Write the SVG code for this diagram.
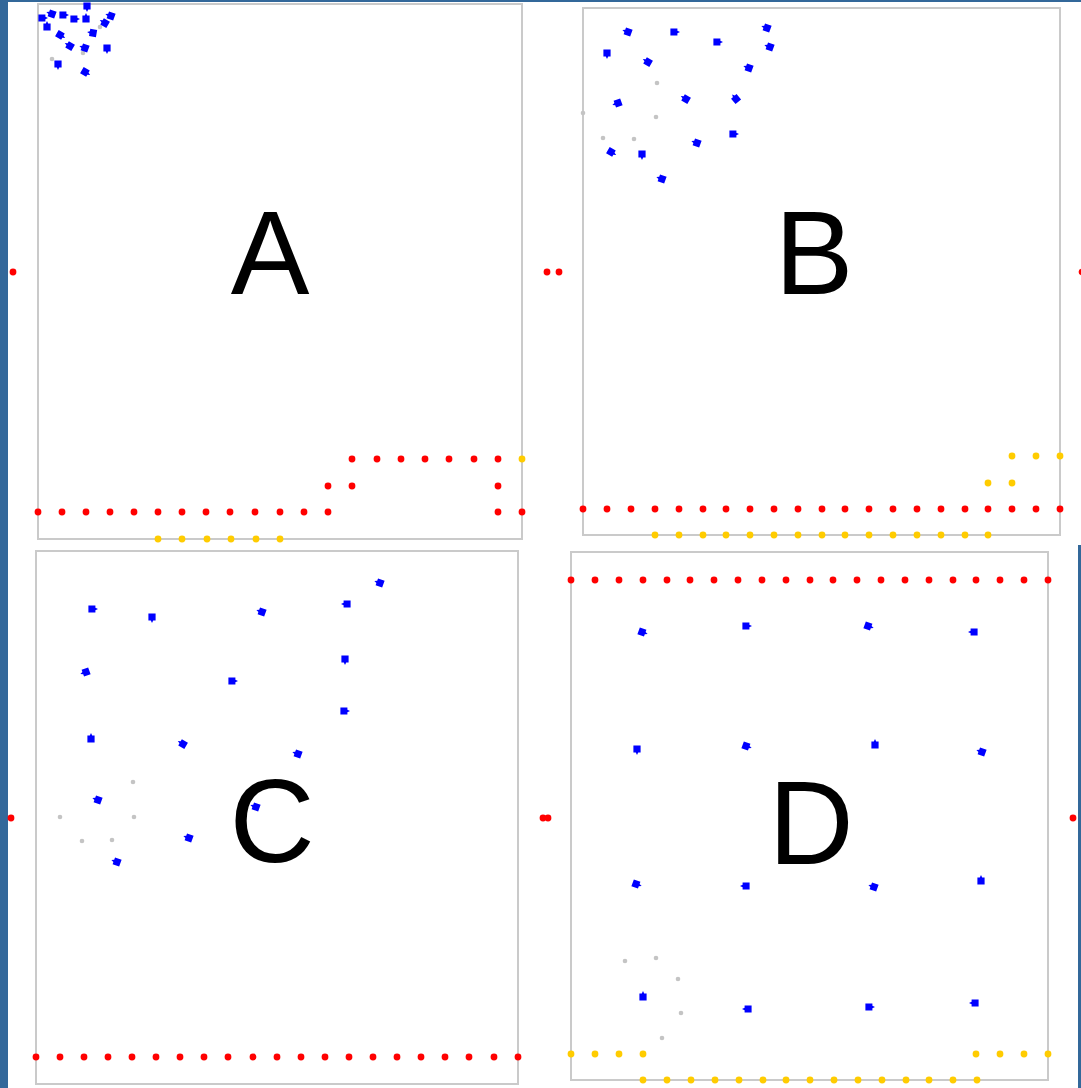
<svg xmlns="http://www.w3.org/2000/svg" xmlns:xlink="http://www.w3.org/1999/xlink" width="1081" height="1088" viewBox="0 0 1081 1088">
<style>
.panel{fill:#fff;stroke:#cacaca;stroke-width:2}
.lbl{font-family:"Liberation Sans",Arial,sans-serif;font-size:118px;fill:#000;text-anchor:middle}
.r{fill:#ff0000}
.y{fill:#ffcc00}
.g{fill:#c4c4c4}
.b{fill:#0000ff}
.edge{fill:#33689a}
</style>
<defs>
<circle id="dot" r="3.4"/>
<circle id="gd" r="2.3"/>
<path id="ar" d="M-3.6,-3.6 L3.4,-3.6 L3.4,-1.2 L6,0 L3.4,1.2 L3.4,3.6 L-3.6,3.6 Z"/>
</defs>
<rect width="1081" height="1088" fill="#fff"/>
<rect class="edge" x="0" y="0" width="8" height="1088"/>
<rect class="edge" x="0" y="0" width="1081" height="2"/>
<rect class="edge" x="1078" y="545" width="3" height="543"/>

<g id="panelA">
<rect class="panel" x="38" y="4" width="484" height="535"/>
<text class="lbl" x="270" y="294">A</text>
</g>
<g id="panelB">
<rect class="panel" x="583" y="8" width="477" height="527"/>
<text class="lbl" x="814" y="294">B</text>
</g>
<g id="panelC">
<rect class="panel" x="36" y="551" width="482" height="533"/>
<text class="lbl" x="272" y="862">C</text>
</g>
<g id="panelD">
<rect class="panel" x="571" y="552" width="477" height="528"/>
<text class="lbl" x="811" y="864">D</text>
</g>

<g id="gray" class="g">
<use href="#gd" x="100" y="27"/><use href="#gd" x="83" y="53"/><use href="#gd" x="52" y="59"/>
<use href="#gd" x="657" y="83"/><use href="#gd" x="656" y="117"/><use href="#gd" x="583" y="113"/><use href="#gd" x="603" y="138"/><use href="#gd" x="634" y="139"/>
<use href="#gd" x="133" y="782"/><use href="#gd" x="60" y="817"/><use href="#gd" x="134" y="817"/><use href="#gd" x="82" y="841"/><use href="#gd" x="112" y="840"/>
<use href="#gd" x="625" y="961"/><use href="#gd" x="656" y="958"/><use href="#gd" x="678" y="979"/><use href="#gd" x="681" y="1013"/><use href="#gd" x="662" y="1038"/>
</g>

<g id="blue" class="b">
<use href="#ar" transform="translate(87,6) rotate(90)"/>
<use href="#ar" transform="translate(52,14) rotate(200)"/>
<use href="#ar" transform="translate(63,15)"/>
<use href="#ar" transform="translate(42,18)"/>
<use href="#ar" transform="translate(74,19)"/>
<use href="#ar" transform="translate(86,19) rotate(-90)"/>
<use href="#ar" transform="translate(111,16) rotate(200)"/>
<use href="#ar" transform="translate(105,23) rotate(210)"/>
<use href="#ar" transform="translate(47,27) rotate(-90)"/>
<use href="#ar" transform="translate(93,33) rotate(190)"/>
<use href="#ar" transform="translate(60,35) rotate(30)"/>
<use href="#ar" transform="translate(70,46) rotate(210)"/>
<use href="#ar" transform="translate(85,48) rotate(200)"/>
<use href="#ar" transform="translate(107,48) rotate(90)"/>
<use href="#ar" transform="translate(58,64) rotate(90)"/>
<use href="#ar" transform="translate(85,72) rotate(30)"/>

<use href="#ar" transform="translate(628,32) rotate(200)"/>
<use href="#ar" transform="translate(674,32)"/>
<use href="#ar" transform="translate(717,42)"/>
<use href="#ar" transform="translate(767,28) rotate(200)"/>
<use href="#ar" transform="translate(770,47) rotate(200)"/>
<use href="#ar" transform="translate(607,53) rotate(90)"/>
<use href="#ar" transform="translate(648,62) rotate(210)"/>
<use href="#ar" transform="translate(749,68) rotate(200)"/>
<use href="#ar" transform="translate(618,103) rotate(160)"/>
<use href="#ar" transform="translate(686,99) rotate(210)"/>
<use href="#ar" transform="translate(736,99) rotate(230)"/>
<use href="#ar" transform="translate(733,134)"/>
<use href="#ar" transform="translate(697,143) rotate(200)"/>
<use href="#ar" transform="translate(611,152) rotate(30)"/>
<use href="#ar" transform="translate(642,154) rotate(90)"/>
<use href="#ar" transform="translate(662,179) rotate(200)"/>

<use href="#ar" transform="translate(92,609)"/>
<use href="#ar" transform="translate(152,617) rotate(90)"/>
<use href="#ar" transform="translate(86,672) rotate(160)"/>
<use href="#ar" transform="translate(91,739) rotate(-90)"/>
<use href="#ar" transform="translate(183,744) rotate(210)"/>
<use href="#ar" transform="translate(98,800) rotate(200)"/>
<use href="#ar" transform="translate(189,838) rotate(200)"/>
<use href="#ar" transform="translate(117,862) rotate(200)"/>
<use href="#ar" transform="translate(380,583) rotate(200)"/>
<use href="#ar" transform="translate(347,604) rotate(180)"/>
<use href="#ar" transform="translate(262,612) rotate(200)"/>
<use href="#ar" transform="translate(345,659) rotate(90)"/>
<use href="#ar" transform="translate(232,681)"/>
<use href="#ar" transform="translate(344,711)"/>
<use href="#ar" transform="translate(298,754) rotate(200)"/>
<use href="#ar" transform="translate(256,807) rotate(200)"/>

<use href="#ar" transform="translate(642,632) rotate(20)"/>
<use href="#ar" transform="translate(746,626)"/>
<use href="#ar" transform="translate(868,626) rotate(20)"/>
<use href="#ar" transform="translate(974,632) rotate(180)"/>
<use href="#ar" transform="translate(637,749) rotate(90)"/>
<use href="#ar" transform="translate(746,746) rotate(20)"/>
<use href="#ar" transform="translate(875,745) rotate(-90)"/>
<use href="#ar" transform="translate(982,752) rotate(200)"/>
<use href="#ar" transform="translate(636,884) rotate(20)"/>
<use href="#ar" transform="translate(746,886) rotate(180)"/>
<use href="#ar" transform="translate(874,887) rotate(200)"/>
<use href="#ar" transform="translate(981,881) rotate(-90)"/>
<use href="#ar" transform="translate(643,997) rotate(-90)"/>
<use href="#ar" transform="translate(748,1009) rotate(180)"/>
<use href="#ar" transform="translate(869,1007)"/>
<use href="#ar" transform="translate(975,1003) rotate(180)"/>
</g>

<g id="yellow" class="y">
<use href="#dot" x="522" y="459"/>
<use href="#dot" x="158" y="539"/><use href="#dot" x="182" y="539"/><use href="#dot" x="207" y="539"/><use href="#dot" x="231" y="539"/><use href="#dot" x="256" y="539"/><use href="#dot" x="280" y="539"/>
<use href="#dot" x="1012" y="456"/><use href="#dot" x="1036" y="456"/><use href="#dot" x="1060" y="456"/>
<use href="#dot" x="988" y="483"/><use href="#dot" x="1012" y="483"/>
<use href="#dot" x="655" y="535"/><use href="#dot" x="679" y="535"/><use href="#dot" x="703" y="535"/><use href="#dot" x="726" y="535"/><use href="#dot" x="750" y="535"/><use href="#dot" x="774" y="535"/><use href="#dot" x="798" y="535"/><use href="#dot" x="822" y="535"/><use href="#dot" x="845" y="535"/><use href="#dot" x="869" y="535"/><use href="#dot" x="893" y="535"/><use href="#dot" x="917" y="535"/><use href="#dot" x="941" y="535"/><use href="#dot" x="965" y="535"/><use href="#dot" x="988" y="535"/>
<use href="#dot" x="571" y="1054"/><use href="#dot" x="595" y="1054"/><use href="#dot" x="619" y="1054"/><use href="#dot" x="643" y="1054"/>
<use href="#dot" x="976" y="1054"/><use href="#dot" x="1000" y="1054"/><use href="#dot" x="1024" y="1054"/><use href="#dot" x="1048" y="1054"/>
<use href="#dot" x="643" y="1080"/><use href="#dot" x="667" y="1080"/><use href="#dot" x="691" y="1080"/><use href="#dot" x="715" y="1080"/><use href="#dot" x="739" y="1080"/><use href="#dot" x="763" y="1080"/><use href="#dot" x="786" y="1080"/><use href="#dot" x="810" y="1080"/><use href="#dot" x="834" y="1080"/><use href="#dot" x="858" y="1080"/><use href="#dot" x="882" y="1080"/><use href="#dot" x="906" y="1080"/><use href="#dot" x="929" y="1080"/><use href="#dot" x="953" y="1080"/><use href="#dot" x="977" y="1080"/>
</g>

<g id="red" class="r">
<use href="#dot" x="13" y="272"/>
<use href="#dot" x="38" y="512"/><use href="#dot" x="62" y="512"/><use href="#dot" x="86" y="512"/><use href="#dot" x="110" y="512"/><use href="#dot" x="134" y="512"/><use href="#dot" x="158" y="512"/><use href="#dot" x="182" y="512"/><use href="#dot" x="206" y="512"/><use href="#dot" x="230" y="512"/><use href="#dot" x="255" y="512"/><use href="#dot" x="280" y="512"/><use href="#dot" x="304" y="512"/><use href="#dot" x="328" y="512"/>
<use href="#dot" x="328" y="486"/><use href="#dot" x="352" y="486"/>
<use href="#dot" x="352" y="459"/><use href="#dot" x="377" y="459"/><use href="#dot" x="401" y="459"/><use href="#dot" x="425" y="459"/><use href="#dot" x="449" y="459"/><use href="#dot" x="474" y="459"/><use href="#dot" x="498" y="459"/>
<use href="#dot" x="498" y="486"/><use href="#dot" x="498" y="512"/><use href="#dot" x="522" y="512"/>
<use href="#dot" x="547" y="272"/><use href="#dot" x="559" y="272"/>
<use href="#dot" x="1082" y="272"/>
<use href="#dot" x="583" y="509"/><use href="#dot" x="607" y="509"/><use href="#dot" x="631" y="509"/><use href="#dot" x="655" y="509"/><use href="#dot" x="679" y="509"/><use href="#dot" x="703" y="509"/><use href="#dot" x="726" y="509"/><use href="#dot" x="750" y="509"/><use href="#dot" x="774" y="509"/><use href="#dot" x="798" y="509"/><use href="#dot" x="822" y="509"/><use href="#dot" x="845" y="509"/><use href="#dot" x="869" y="509"/><use href="#dot" x="893" y="509"/><use href="#dot" x="917" y="509"/><use href="#dot" x="941" y="509"/><use href="#dot" x="965" y="509"/><use href="#dot" x="988" y="509"/><use href="#dot" x="1012" y="509"/><use href="#dot" x="1036" y="509"/><use href="#dot" x="1060" y="509"/>
<use href="#dot" x="11" y="818"/>
<use href="#dot" x="36" y="1057"/><use href="#dot" x="60" y="1057"/><use href="#dot" x="84" y="1057"/><use href="#dot" x="108" y="1057"/><use href="#dot" x="132" y="1057"/><use href="#dot" x="156" y="1057"/><use href="#dot" x="180" y="1057"/><use href="#dot" x="204" y="1057"/><use href="#dot" x="228" y="1057"/><use href="#dot" x="253" y="1057"/><use href="#dot" x="277" y="1057"/><use href="#dot" x="301" y="1057"/><use href="#dot" x="325" y="1057"/><use href="#dot" x="349" y="1057"/><use href="#dot" x="373" y="1057"/><use href="#dot" x="397" y="1057"/><use href="#dot" x="421" y="1057"/><use href="#dot" x="445" y="1057"/><use href="#dot" x="469" y="1057"/><use href="#dot" x="494" y="1057"/><use href="#dot" x="518" y="1057"/>
<use href="#dot" x="543" y="818"/><use href="#dot" x="548" y="818"/><use href="#dot" x="1073" y="818"/>
<use href="#dot" x="571" y="580"/><use href="#dot" x="595" y="580"/><use href="#dot" x="619" y="580"/><use href="#dot" x="643" y="580"/><use href="#dot" x="667" y="580"/><use href="#dot" x="690" y="580"/><use href="#dot" x="714" y="580"/><use href="#dot" x="738" y="580"/><use href="#dot" x="762" y="580"/><use href="#dot" x="786" y="580"/><use href="#dot" x="810" y="580"/><use href="#dot" x="833" y="580"/><use href="#dot" x="857" y="580"/><use href="#dot" x="881" y="580"/><use href="#dot" x="905" y="580"/><use href="#dot" x="929" y="580"/><use href="#dot" x="953" y="580"/><use href="#dot" x="976" y="580"/><use href="#dot" x="1000" y="580"/><use href="#dot" x="1024" y="580"/><use href="#dot" x="1048" y="580"/>
</g>
</svg>
